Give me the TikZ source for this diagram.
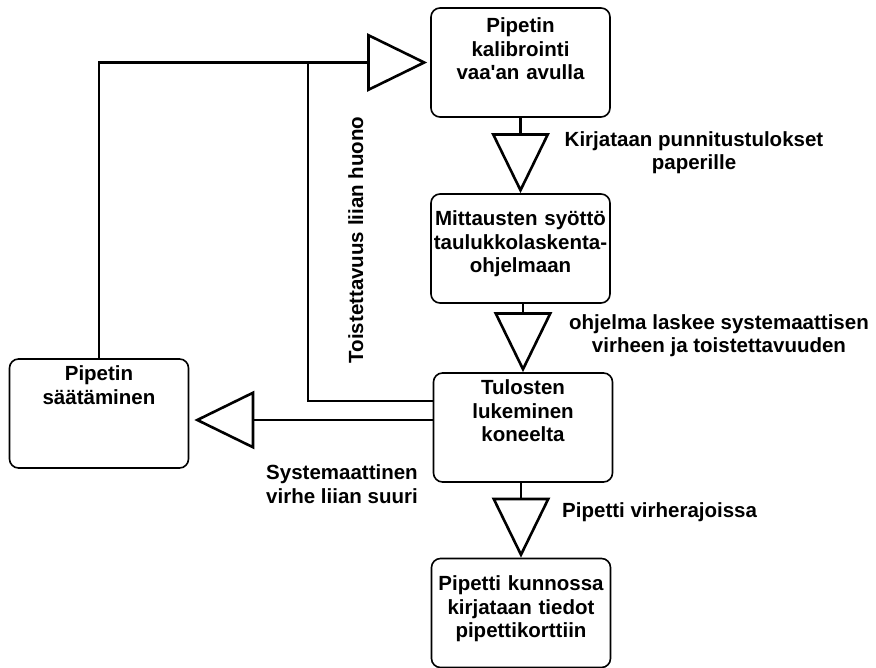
\documentclass[tikz,border=0pt]{standalone}
\usepackage{fontspec}
\setmainfont{Liberation Sans}
\usetikzlibrary{arrows.meta}

\tikzset{
    laatikko/.style={draw, rounded corners=9pt, line width=1.6pt,
        text width=179pt, align=center, inner xsep=0pt, inner ysep=0pt,
        text height=#1, text depth=109pt-#1},
    kulku/.style={line width=2.6pt,
        -{Triangle[open, length=60pt, width=58pt]}},
    viiva/.style={line width=2.6pt},
    teksti/.style={inner sep=0pt, align=center}
}

\begin{document}
\begin{tikzpicture}[x=1pt, y=-1pt, font=\fontsize{20.5}{23.5}\selectfont\bfseries]
    \useasboundingbox (0,0) rectangle (876,668);

    % laatikot
    \node[laatikko=25pt] (kalibrointi) at (520.5,62.5) {Pipetin\\kalibrointi\\vaa\textquotesingle an avulla};
    \node[laatikko=32pt] (syotto) at (520.5,248.5) {Mittausten syöttö\\taulukkolaskenta-\\ohjelmaan};
    \node[laatikko=22pt] (tulokset) at (523,427.5) {Tulosten\\lukeminen\\koneelta};
    \node[laatikko=32pt] (kunnossa) at (521,613) {Pipetti kunnossa\\kirjataan tiedot\\pipettikorttiin};
    \node[laatikko=22pt] (saato) at (99,413.5) {Pipetin\\säätäminen};

    % nuolet laatikosta toiseen
    \draw[kulku] (kalibrointi) -- (syotto);
    \draw[kulku] (tulokset.north |- syotto.south) -- (tulokset.north);
    \draw[kulku] (kunnossa.north |- tulokset.south) -- (kunnossa.north);
    \draw[kulku, shorten >=5pt] (tulokset.west |- 0,420) -- (saato.east |- 0,420);
    \draw[kulku, shorten >=3pt] (saato.north) |- (kalibrointi.west);

    % haara takaisin kalibrointiin
    \draw[viiva] (tulokset.west |- 0,401) -| (308,0 |- kalibrointi.west);

    % nuolten tekstit
    \node[teksti, anchor=base] (kirjataan) at (694,170) {Kirjataan punnitustulokset\\paperille};
    \node[teksti, anchor=base] (ohjelma) at (719,353) {ohjelma laskee systemaattisen\\virheen ja toistettavuuden};
    \node[teksti, anchor=base west] (rajoissa) at (562,517) {Pipetti virherajoissa};
    \node[teksti, anchor=base] (virhe) at (342,503) {Systemaattinen\\virhe liian suuri};
    \node[teksti, rotate=90, anchor=base] (toistettavuus) at (363,240) {Toistettavuus liian huono};
\end{tikzpicture}
\end{document}
